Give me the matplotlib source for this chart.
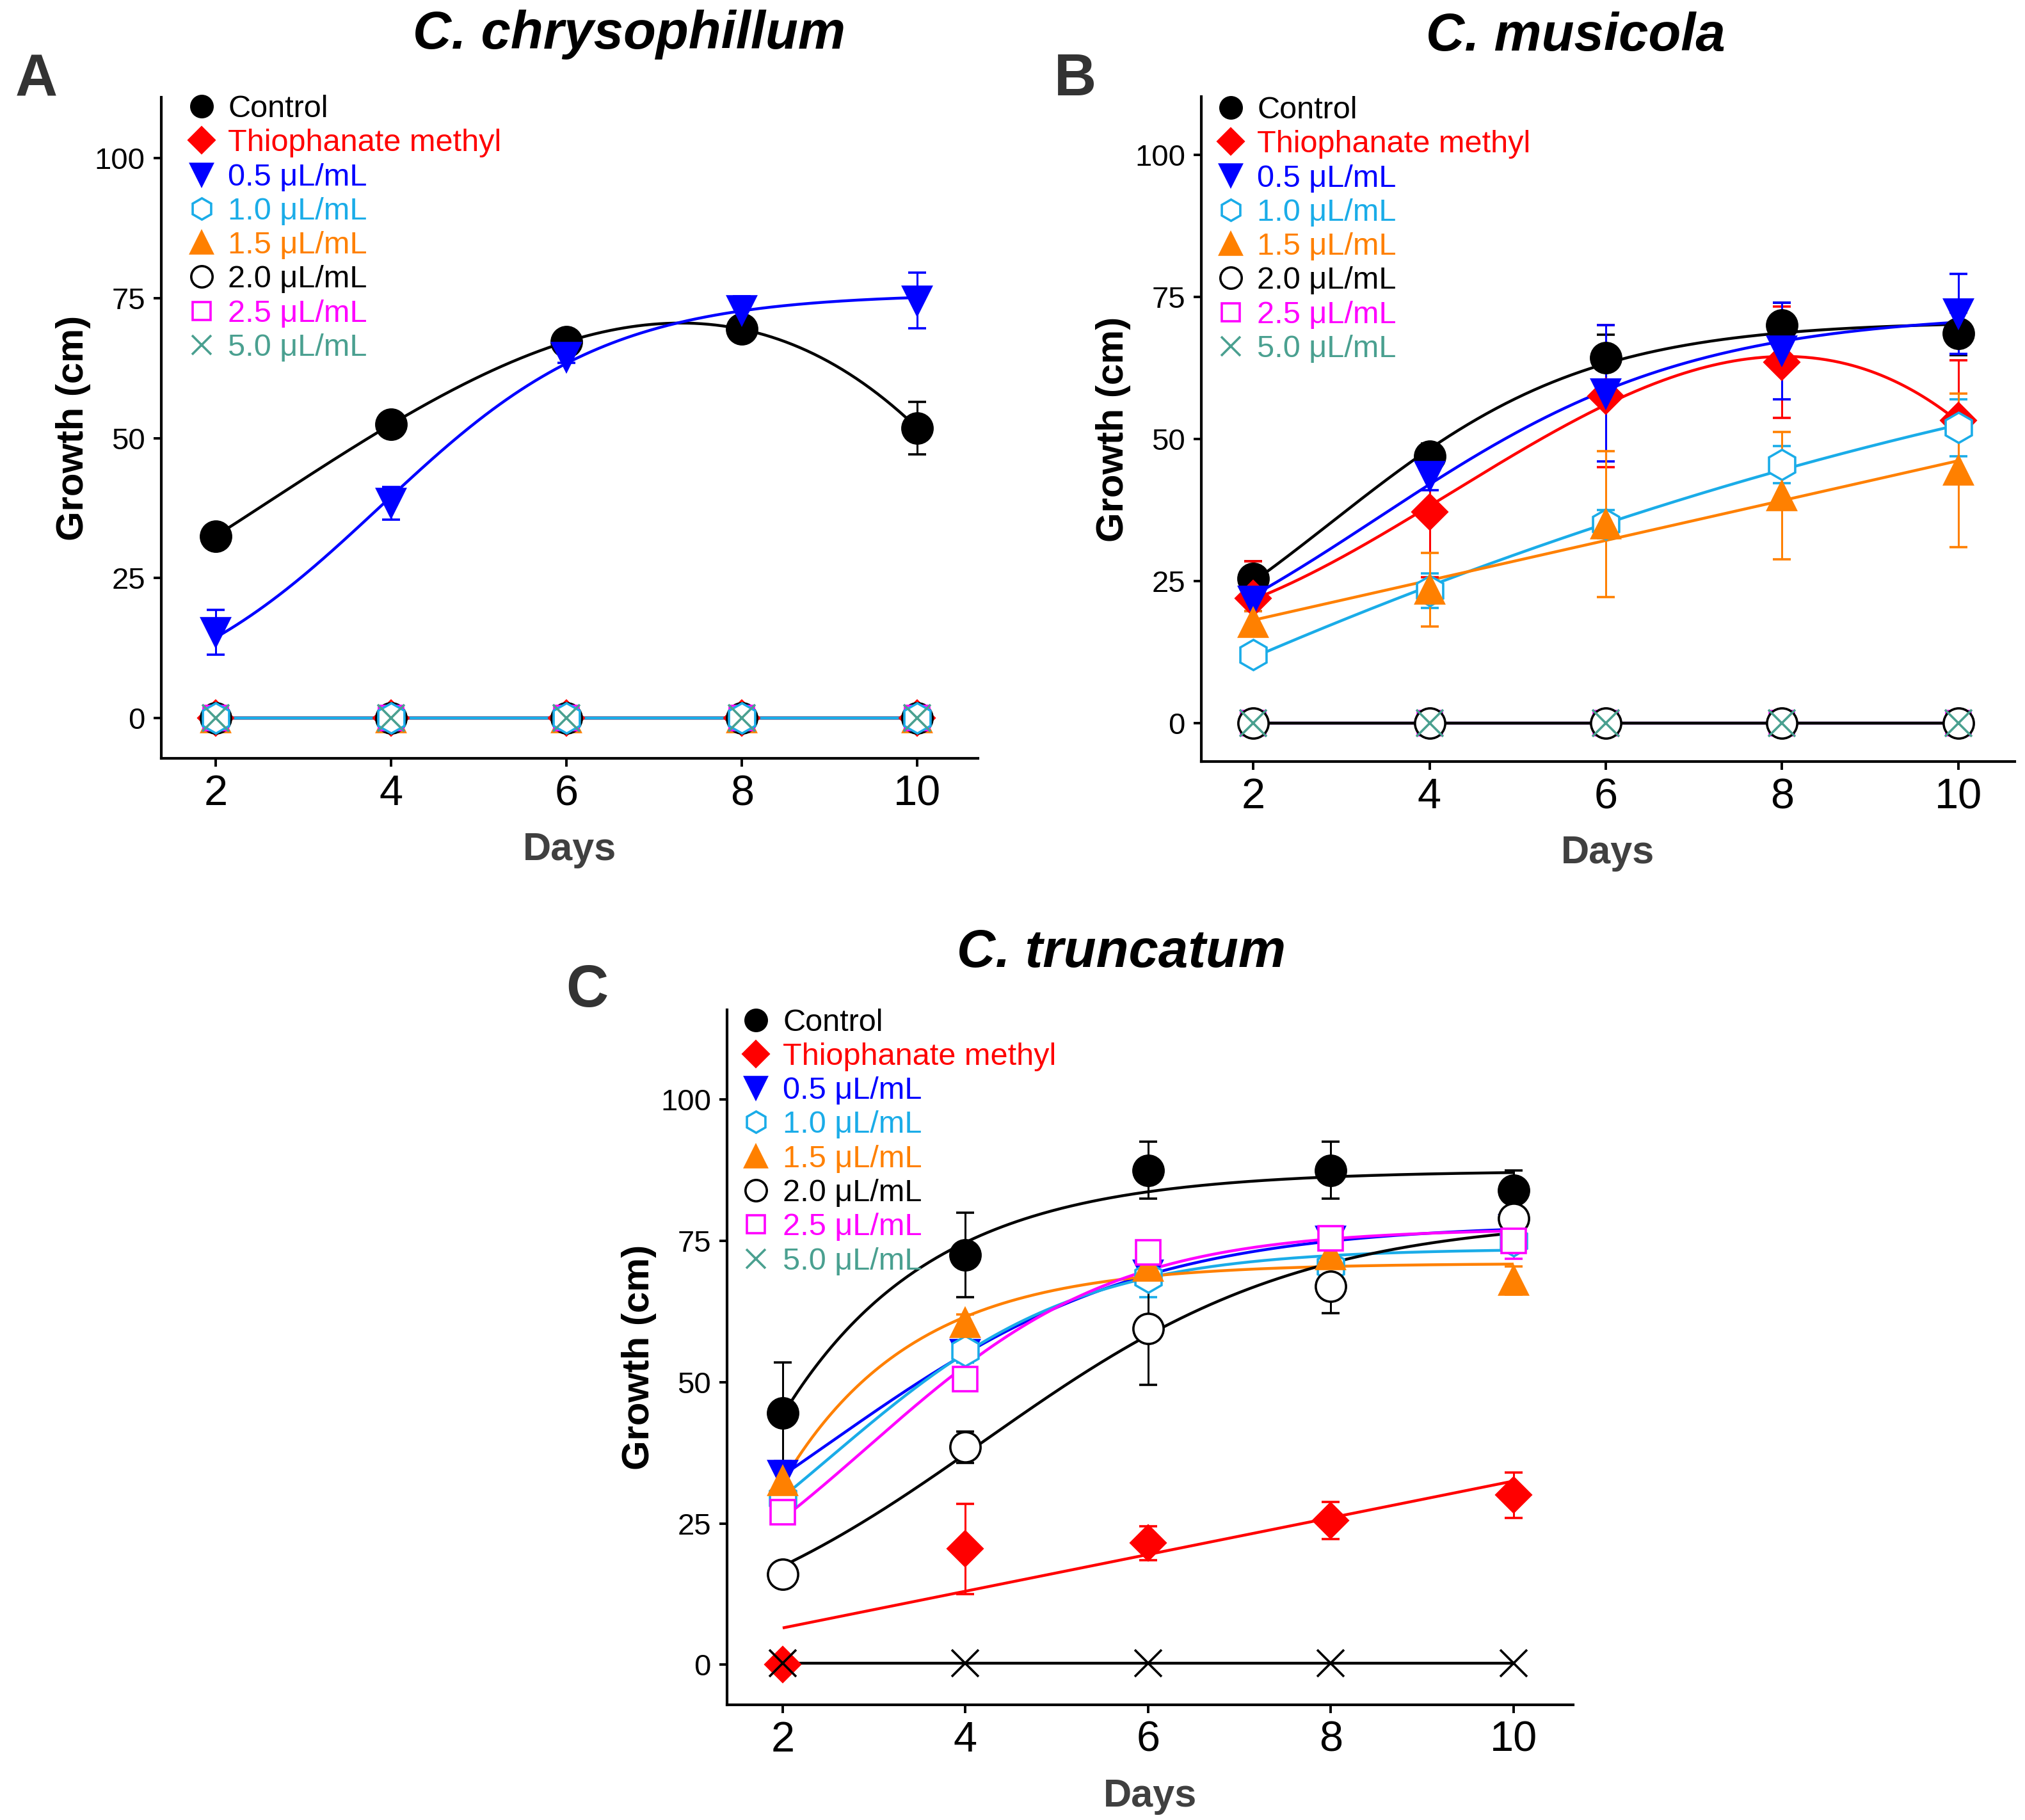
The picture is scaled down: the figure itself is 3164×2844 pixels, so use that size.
import numpy as np
import matplotlib
matplotlib.use("Agg")
import matplotlib.pyplot as plt
from matplotlib.lines import Line2D

plt.rcParams['font.family'] = ['Liberation Sans', 'DejaVu Sans']

# ---------------- data ----------------
days = [2, 4, 6, 8, 10]
labels = ['Control', 'Thiophanate methyl', '0.5 μL/mL', '1.0 μL/mL',
          '1.5 μL/mL', '2.0 μL/mL', '2.5 μL/mL', '5.0 μL/mL']
colors = ['#000000', '#FF0000', '#0000FF', '#1AACE8',
          '#FF8000', '#000000', '#FF00FF', '#4AA090']
markers = ['o', 'D', 'v', 'h', '^', 'o', 's', 'x']
filled = [True, True, True, False, True, False, False, True]

# panel A: C. chrysophillum
A_means = [
    [32.5, 52.5, 67.2, 69.5, 51.8],
    [0, 0, 0, 0, 0],
    [15.3, 38.4, 64.5, 72.8, 74.6],
    [0, 0, 0, 0, 0],
    [0, 0, 0, 0, 0],
    [0, 0, 0, 0, 0],
    [0, 0, 0, 0, 0],
    [0, 0, 0, 0, 0],
]
A_errs = [
    [0.8, 0.8, 0.8, 1.0, 4.7],
    [0, 0, 0, 0, 0],
    [4.0, 2.9, 1.0, 2.6, 5.0],
    [0, 0, 0, 0, 0],
    [0, 0, 0, 0, 0],
    [0, 0, 0, 0, 0],
    [0, 0, 0, 0, 0],
    [0, 0, 0, 0, 0],
]
A_models = ['poly3', 'lin', 'sig', 'lin', 'lin', 'lin', 'lin', 'lin']

# panel B: C. musicola
B_means = [
    [25.5, 47.0, 64.3, 70.0, 68.5],
    [22.0, 37.2, 57.5, 63.5, 53.3],
    [21.5, 43.5, 58.0, 65.5, 72.0],
    [12.0, 23.3, 35.0, 45.5, 52.0],
    [17.7, 23.5, 35.0, 40.0, 44.5],
    [0, 0, 0, 0, 0],
    [0, 0, 0, 0, 0],
    [0, 0, 0, 0, 0],
]
B_errs = [
    [3.0, 2.2, 4.0, 4.0, 3.8],
    [6.5, 11.5, 12.5, 9.8, 10.5],
    [1.8, 2.5, 12.0, 8.5, 7.0],
    [1.0, 3.0, 2.5, 3.3, 5.0],
    [2.0, 6.5, 12.8, 11.2, 13.5],
    [0, 0, 0, 0, 0],
    [0, 0, 0, 0, 0],
    [0, 0, 0, 0, 0],
]
B_models = ['sig', 'poly3', 'sig', 'poly2', 'lin', 'lin', 'lin', 'lin']

# panel C: C. truncatum
C_means = [
    [44.5, 72.5, 87.5, 87.5, 84.0],
    [0.0, 20.5, 21.5, 25.5, 30.0],
    [33.5, 55.0, 69.0, 75.0, 77.0],
    [29.5, 55.5, 68.5, 70.5, 75.0],
    [32.5, 60.5, 70.5, 72.5, 68.0],
    [16.0, 38.5, 59.5, 67.0, 79.0],
    [27.0, 50.5, 73.0, 75.5, 75.0],
    [0.3, 0.3, 0.3, 0.3, 0.3],
]
C_errs = [
    [9.0, 7.5, 5.0, 5.0, 3.5],
    [0.0, 8.0, 3.0, 3.3, 4.0],
    [2.5, 1.5, 1.5, 1.5, 1.0],
    [1.5, 2.0, 3.5, 1.5, 1.5],
    [1.5, 1.5, 1.0, 1.0, 2.5],
    [0.8, 2.8, 10.0, 4.8, 2.0],
    [1.0, 1.0, 1.0, 1.0, 3.2],
    [0, 0, 0, 0, 0],
]
C_models = ['exp', 'lin', 'sig', 'sig', 'exp', 'sig', 'sig', 'lin']

titles = ['C. chrysophillum', 'C. musicola', 'C. truncatum']
letters = ['A', 'B', 'C']
yticks = [0, 25, 50, 75, 100]
xticks = [2, 4, 6, 8, 10]


# ---------------- curve fitting ----------------
def f_sig(x, p):
    return p[0] / (1.0 + np.exp(np.clip(-(x - p[1]) / p[2], -50, 50)))


def f_exp(x, p):
    return p[0] * (1.0 - np.exp(np.clip(-p[1] * (x - p[2]), -50, 50)))


def lm_fit(f, x, y, p0, iters=400):
    p = np.asarray(p0, float)

    def sse(pp):
        r = y - f(x, pp)
        return float(np.dot(r, r))

    cur = sse(p)
    lam = 1e-2
    for _ in range(iters):
        r = y - f(x, p)
        J = np.empty((len(x), len(p)))
        for k in range(len(p)):
            h = 1e-6 * max(1.0, abs(p[k]))
            d = np.zeros_like(p)
            d[k] = h
            J[:, k] = (f(x, p + d) - f(x, p - d)) / (2 * h)
        A = J.T @ J
        g = J.T @ r
        try:
            step = np.linalg.solve(A + lam * np.diag(np.diag(A) + 1e-9), g)
        except np.linalg.LinAlgError:
            lam *= 10
            continue
        new = sse(p + step)
        if np.isfinite(new) and new < cur:
            p = p + step
            cur = new
            lam = max(lam / 3, 1e-10)
        else:
            lam *= 4
            if lam > 1e14:
                break
    return p


def fit_curve(model, x, y, xs):
    x = np.asarray(x, float)
    y = np.asarray(y, float)
    if model == 'lin':
        return np.polyval(np.polyfit(x, y, 1), xs)
    if model == 'poly2':
        return np.polyval(np.polyfit(x, y, 2), xs)
    if model == 'poly3':
        return np.polyval(np.polyfit(x, y, 3), xs)
    if model == 'sig':
        p = lm_fit(f_sig, x, y, [y.max() * 1.05, 4.0, 1.5])
        return f_sig(xs, p)
    if model == 'exp':
        p = lm_fit(f_exp, x, y, [y.max() * 1.02, 0.5, 0.5])
        return f_exp(xs, p)
    return np.interp(xs, x, y)


# ---------------- figure ----------------
fig = plt.figure(figsize=(15.82, 14.22), dpi=200)

axes_rects = [
    [0.0796, 0.5833, 0.4033, 0.3632],
    [0.5932, 0.5814, 0.4017, 0.3655],
    [0.3590, 0.0633, 0.4178, 0.3819],
]
ylims = [(-7.2, 110.9), (-6.8, 110.2), (-7.1, 115.9)]
xlims = [(1.38, 10.69), (1.41, 10.64), (1.39, 10.65)]
title_pos = [(0.3106, 0.981), (0.778, 0.980), (0.5536, 0.4766)]
letter_pos = [(0.0179, 0.956), (0.531, 0.956), (0.290, 0.4553)]
legend_anchor = [(0.031, 1.004), (0.018, 1.001), (0.017, 1.002)]

line_orders = [
    [1, 4, 5, 6, 7, 3, 0, 2],
    [6, 7, 5, 0, 1, 2, 3, 4],
    [0, 1, 2, 3, 4, 5, 6, 7],
]
marker_orders = [
    [1, 4, 5, 6, 3, 7, 0, 2],
    [6, 5, 7, 0, 1, 2, 3, 4],
    [0, 1, 2, 3, 4, 5, 6, 7],
]

panel_means = [A_means, B_means, C_means]
panel_errs = [A_errs, B_errs, C_errs]
panel_models = [A_models, B_models, C_models]

msizes = [17, 14, 16, 17, 16, 17, 14, 15]
leg_msizes = [12, 10, 12, 12, 12, 12, 10, 11]

xs = np.linspace(2, 10, 300)

for pi in range(3):
    ax = fig.add_axes(axes_rects[pi])
    means = panel_means[pi]
    errs = panel_errs[pi]
    models = panel_models[pi]
    pcolors = list(colors)
    if pi == 2:
        pcolors[7] = '#000000'

    # fitted curves
    for z, si in enumerate(line_orders[pi]):
        ys = fit_curve(models[si], days, means[si], xs)
        ax.plot(xs, ys, color=pcolors[si], lw=1.6, zorder=2 + 0.01 * z,
                solid_capstyle='butt')

    # markers + error bars
    for z, si in enumerate(marker_orders[pi]):
        c = pcolors[si]
        mfc = c if filled[si] else 'white'
        yerr = errs[si] if any(e > 0 for e in errs[si]) else None
        ax.errorbar(days, means[si], yerr=yerr, fmt=markers[si], ls='none',
                    color=c, mfc=mfc, mec=c, ms=msizes[si], mew=1.3,
                    ecolor=c, elinewidth=1.1, capsize=5, capthick=1.1,
                    zorder=3 + 0.01 * z)

    ax.set_xlim(*xlims[pi])
    ax.set_ylim(*ylims[pi])
    ax.set_xticks(xticks)
    ax.set_yticks(yticks)
    for s in ['top', 'right']:
        ax.spines[s].set_visible(False)
    for s in ['left', 'bottom']:
        ax.spines[s].set_linewidth(1.5)
    ax.tick_params(axis='both', direction='out', length=4.5, width=1.4)
    ax.tick_params(axis='y', labelsize=17, pad=4.5)
    ax.tick_params(axis='x', labelsize=24, pad=4.5)
    ax.set_ylabel('Growth (cm)', fontsize=21.5, fontweight='bold',
                  labelpad=2.0)
    ax.set_xlabel('Days', fontsize=22, fontweight='bold', color='#404040',
                  labelpad=10)

    handles = []
    for si in range(8):
        c = colors[si]
        handles.append(Line2D([], [], ls='none', marker=markers[si],
                              color=c, mfc=c if filled[si] else 'white',
                              mec=c, ms=leg_msizes[si], mew=1.3))
    ax.legend(handles, labels, loc='upper left',
              bbox_to_anchor=legend_anchor[pi], frameon=False,
              fontsize=17.5, handlelength=0.95, handletextpad=0.38,
              labelspacing=0.17, borderpad=0, borderaxespad=0,
              labelcolor=colors)

    fig.text(*title_pos[pi], titles[pi], fontsize=30, fontweight='bold',
             style='italic', ha='center', va='center')
    fig.text(*letter_pos[pi], letters[pi], fontsize=33, fontweight='bold',
             color='#333333', ha='center', va='center')

fig.savefig('out.png', dpi=200)
